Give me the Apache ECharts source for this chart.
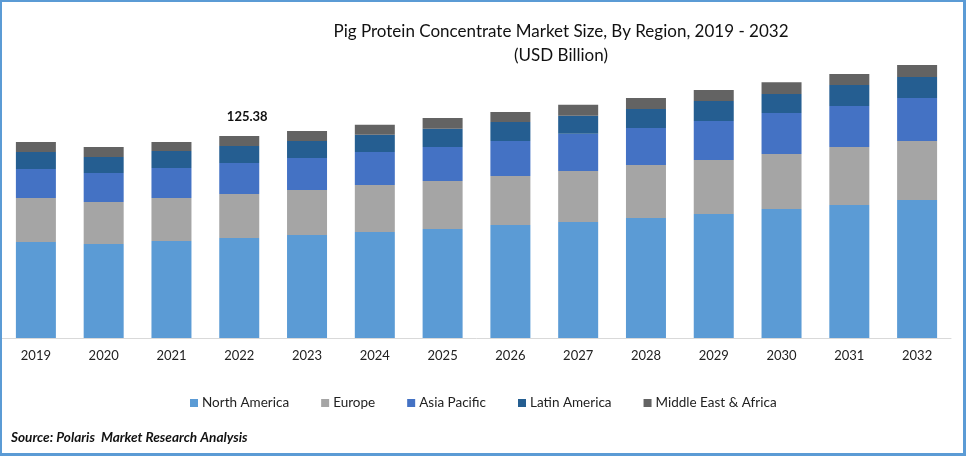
<!DOCTYPE html>
<html>
<head>
    <meta charset="utf-8">
    <script src="https://cdn.jsdelivr.net/npm/echarts@6/dist/echarts.min.js"></script>
    <style>
        html, body { margin: 0; padding: 0; background: #fff; }
        #main { width: 966px; height: 456px; box-sizing: border-box; border: 2px solid #5b9bd5; border-right-width: 3px; border-bottom-width: 3px; }
    </style>
</head>
<body>
    <div id="main"></div>
    <script type="text/javascript">
        var years = ['2019','2020','2021','2022','2023','2024','2025','2026','2027','2028','2029','2030','2031','2032'];
        var northAmerica = [59.6,58.3,60.2,62.1,63.9,65.8,67.7,70.1,72.0,74.5,77.0,80.1,82.6,85.7];
        var europe = [27.3,26.1,26.7,27.3,27.9,29.2,29.8,30.4,31.7,32.9,33.5,34.1,36.0,36.6];
        var asiaPacific = [18.0,18.0,18.6,19.2,19.9,20.5,21.1,21.7,23.0,23.0,24.2,25.4,25.4,26.7];
        var latinAmerica = [10.6,9.9,10.6,10.6,10.6,10.6,11.2,11.8,11.2,11.8,12.4,11.8,13.0,13.0];
        var middleEast = [6.2,6.2,5.6,6.2,6.2,6.2,6.8,6.2,6.8,6.8,6.8,7.4,6.8,7.4];
        var labelYear = '2022';
        var labelText = '125.38';

        var fontName = 'Lato';
        var myChart = echarts.init(document.getElementById('main'));

        function makeSeries(name, values, color) {
            return { name: name, type: 'bar', stack: 'total', barWidth: 40, data: values, itemStyle: { color: color } };
        }

        var series = [
            makeSeries('North America', northAmerica, '#5b9bd5'),
            makeSeries('Europe', europe, '#a5a5a5'),
            makeSeries('Asia Pacific', asiaPacific, '#4472c4'),
            makeSeries('Latin America', latinAmerica, '#255e91'),
            makeSeries('Middle East & Africa', middleEast, '#636363')
        ];
        // only one bar carries a total label
        series[4].data = middleEast.map(function (v, i) {
            if (years[i] !== labelYear) return v;
            return {
                value: v,
                label: {
                    show: true, position: 'top', distance: 13, offset: [8, 0], formatter: labelText,
                    fontFamily: fontName, fontSize: 13, fontWeight: 'bold', color: '#111'
                }
            };
        });

        myChart.setOption({
            animation: false,
            title: [
                {
                    text: 'Pig Protein Concentrate Market Size, By Region, 2019 - 2032\n(USD Billion)',
                    left: 554, top: 13,
                    textAlign: 'center',
                    textStyle: { fontFamily: fontName, fontSize: 17, fontWeight: 'normal', color: '#111', lineHeight: 24 }
                },
                {
                    text: 'Source: Polaris  Market Research Analysis',
                    left: 4, top: 424,
                    textStyle: { fontFamily: fontName, fontSize: 13.6, fontWeight: 'bold', fontStyle: 'italic', color: '#111' }
                }
            ],
            legend: {
                top: 389, left: 183, itemWidth: 8, itemHeight: 8, itemGap: 32,
                icon: 'rect',
                textStyle: { fontFamily: fontName, fontSize: 13.5, color: '#222', padding: [0, 0, 0, -1] }
            },
            grid: { left: 0, right: 12, top: 36, height: 300 },
            xAxis: {
                type: 'category', data: years,
                axisLine: { lineStyle: { color: '#d9d9d9', width: 1 } },
                axisTick: { show: false },
                axisLabel: { fontFamily: fontName, fontSize: 13, color: '#222', margin: 11 }
            },
            yAxis: { type: 'value', min: 0, max: 186.2, show: false, splitLine: { show: false } },
            series: series
        });
    </script>
</body>
</html>
